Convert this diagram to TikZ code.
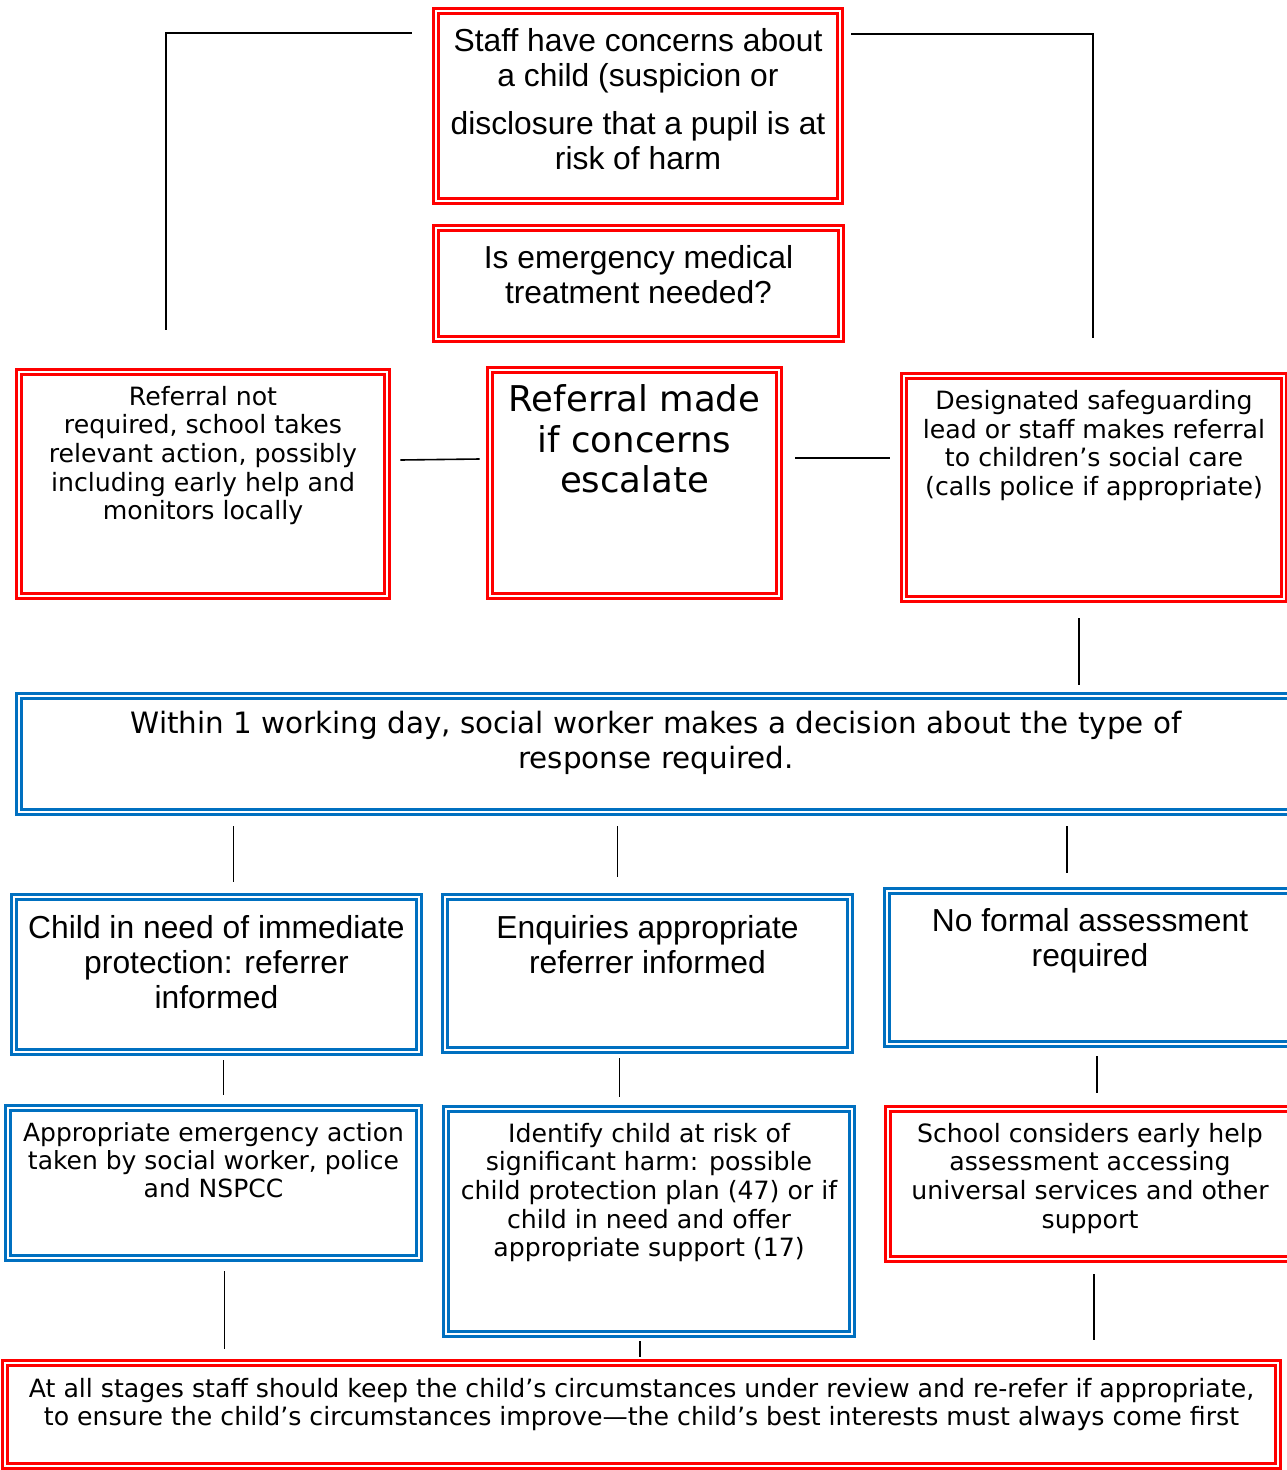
\documentclass[tikz,border=0pt]{standalone}
\usepackage{fontspec}
\setmainfont{Liberation Sans}
\newfontfamily\comicfont{DejaVu Sans}
\usetikzlibrary{positioning, calc}
\definecolor{sgred}{HTML}{FF0000}
\definecolor{sgblue}{HTML}{0070C0}

\begin{document}
\begin{tikzpicture}[x=1pt, y=-1pt,
    every node/.style={inner sep=0pt},
    box/.style={rectangle, double, double distance=2.4pt, line width=2.6pt},
    redbox/.style={box, draw=sgred},
    bluebox/.style={box, draw=sgblue},
    arial/.style={align=center, font=\fontsize{31.8}{35}\selectfont},
    comic/.style={align=center, font=\comicfont\fontsize{25.2}{28.7}\selectfont},
    link/.style={draw, line width=1.6pt}]

  \useasboundingbox (0,0) rectangle (1287,1470);
  \clip (0,0) rectangle (1287,1470);

  \node[redbox, minimum width=404pt, minimum height=190pt] (staff) at (638,106) {};
  \node[arial, below=19pt of staff.north] (staff-t) {Staff have concerns about\\a child (suspicion or\\[13pt]disclosure that a pupil is at\\risk of harm};

  \node[redbox, minimum width=405pt, minimum height=111pt] (emerg) at (638.5,283.5) {};
  \node[arial, below=19pt of emerg.north] (emerg-t) {Is emergency medical\\treatment needed?};

  \node[redbox, minimum width=368pt, minimum height=224pt] (refnot) at (203,484) {};
  \node[comic, below=15pt of refnot.north] (refnot-t) {Referral not\\required, school takes\\relevant action, possibly\\including early help and\\monitors locally};

  \node[redbox, minimum width=289pt, minimum height=226pt] (refmade) at (634.5,483) {};
  \node[comic, font=\comicfont\fontsize{35.5}{40.5}\selectfont, below=16pt of refmade.north] (refmade-t) {Referral made\\if concerns\\escalate};

  \node[redbox, minimum width=380pt, minimum height=223pt] (design) at (1094,487.5) {};
  \node[comic, below=15.5pt of design.north] (design-t) {Designated safeguarding\\lead or staff makes referral\\to children’s social care\\(calls police if appropriate)};

  \node[bluebox, minimum width=1274pt, minimum height=116pt] (within) at (656,754) {};
  \node[comic, font=\comicfont\fontsize{29.4}{35}\selectfont, below=16.5pt of within.north] (within-t) {Within 1 working day, social worker makes a decision about the type of\\response required.};

  \node[bluebox, minimum width=405pt, minimum height=155pt] (child) at (216.5,974.5) {};
  \node[arial, below=20pt of child.north] (child-t) {Child in need of immediate\\protection: referrer\\informed};

  \node[bluebox, minimum width=405pt, minimum height=153pt] (enq) at (647.5,973.5) {};
  \node[arial, below=20pt of enq.north] (enq-t) {Enquiries appropriate\\referrer informed};

  \node[bluebox, minimum width=406pt, minimum height=153pt] (nof) at (1090,967.5) {};
  \node[arial, below=19pt of nof.north] (nof-t) {No formal assessment\\required};

  \node[bluebox, minimum width=411pt, minimum height=150pt] (appr) at (213.5,1183) {};
  \node[comic, font=\comicfont\fontsize{25}{28}\selectfont, below=16pt of appr.north] (appr-t) {Appropriate emergency action\\taken by social worker, police\\and NSPCC};

  \node[bluebox, minimum width=406pt, minimum height=225pt] (ident) at (649,1221.5) {};
  \node[comic, below=15pt of ident.north] (ident-t) {Identify child at risk of\\significant harm: possible\\child protection plan (47) or if\\child in need and offer\\appropriate support (17)};

  \node[redbox, minimum width=404pt, minimum height=150pt] (school) at (1090,1184) {};
  \node[comic, below=15pt of school.north] (school-t) {School considers early help\\assessment accessing\\universal services and other\\support};

  \node[redbox, minimum width=1273pt, minimum height=103pt] (bottom) at (641.5,1414.5) {};
  \node[comic, below=16pt of bottom.north] (bottom-t) {At all stages staff should keep the child’s circumstances under review and re-refer if appropriate,\\to ensure the child’s circumstances improve—the child’s best interests must always come first};

  \draw[link] ([xshift=-23pt, yshift=73pt]staff.west) -| ([xshift=-37pt, yshift=41pt]refnot.north);
  \draw[link] ([xshift=10pt, yshift=72pt]staff.east) -| ([xshift=-1pt, yshift=37pt]design.north);
  \draw[link] ([xshift=12pt, yshift=24pt]refnot.east) -- ([xshift=-9pt, yshift=24pt]refmade.west);
  \draw[link] ([xshift=15pt, yshift=25pt]refmade.east) -- ([xshift=-13pt, yshift=29.5pt]design.west);
  \draw[link, shorten <=18pt, shorten >=10pt] ([xshift=-15pt]design.south) -- ([xshift=-15pt]design.south |- within.north);
  \draw[link, shorten <=13pt, shorten >=14pt] ([xshift=17pt]child.north |- within.south) -- ([xshift=17pt]child.north);
  \draw[link, shorten <=13pt, shorten >=19pt] ([xshift=-30pt]enq.north |- within.south) -- ([xshift=-30pt]enq.north);
  \draw[link, shorten <=13pt, shorten >=17pt] ([xshift=-23pt]nof.north |- within.south) -- ([xshift=-23pt]nof.north);
  \draw[link, shorten <=7pt, shorten >=12pt] ([xshift=7pt]child.south) -- ([xshift=7pt]child.south |- appr.north);
  \draw[link, shorten <=7pt, shorten >=11pt] ([xshift=-28pt]enq.south) -- ([xshift=-28pt]enq.south |- ident.north);
  \draw[link, shorten <=11pt, shorten >=15pt] ([xshift=7pt]nof.south) -- ([xshift=7pt]nof.south |- school.north);
  \draw[link, shorten <=12pt, shorten >=13pt] ([xshift=11pt]appr.south) -- ([xshift=11pt]appr.south |- bottom.north);
  \draw[link, shorten <=6pt, shorten >=5pt] ([xshift=-9pt]ident.south) -- ([xshift=-9pt]ident.south |- bottom.north);
  \draw[link, shorten <=14pt, shorten >=22pt] ([xshift=4pt]school.south) -- ([xshift=4pt]school.south |- bottom.north);
\end{tikzpicture}
\end{document}
